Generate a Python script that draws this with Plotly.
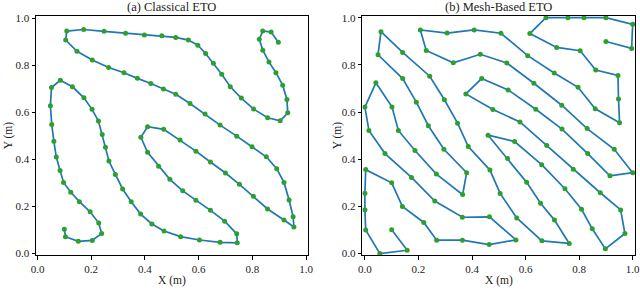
import plotly.graph_objects as go

# (a) Classical ETO path
classical_x = [0.100, 0.104, 0.152, 0.204, 0.239, 0.228, 0.196, 0.156, 0.124, 0.097,
               0.084, 0.070, 0.061, 0.053, 0.048, 0.052, 0.085, 0.130, 0.173, 0.203,
               0.227, 0.241, 0.253, 0.266, 0.290, 0.317, 0.349, 0.384, 0.426, 0.471,
               0.533, 0.603, 0.680, 0.744, 0.742, 0.697, 0.644, 0.590, 0.541, 0.493,
               0.451, 0.410, 0.385, 0.410, 0.470, 0.531, 0.590, 0.644, 0.700, 0.752,
               0.804, 0.857, 0.918, 0.955, 0.952, 0.937, 0.918, 0.891, 0.852, 0.799,
               0.742, 0.680, 0.624, 0.568, 0.515, 0.469, 0.422, 0.372, 0.322, 0.265,
               0.204, 0.147, 0.105, 0.109, 0.172, 0.248, 0.328, 0.398, 0.463, 0.515,
               0.562, 0.597, 0.626, 0.655, 0.686, 0.718, 0.759, 0.805, 0.857, 0.904,
               0.932, 0.929, 0.913, 0.888, 0.862, 0.839, 0.826, 0.839, 0.870, 0.897]
classical_y = [0.103, 0.071, 0.051, 0.055, 0.085, 0.129, 0.177, 0.220, 0.260, 0.302,
               0.353, 0.410, 0.477, 0.549, 0.628, 0.706, 0.737, 0.709, 0.662, 0.613,
               0.563, 0.506, 0.452, 0.393, 0.336, 0.274, 0.220, 0.167, 0.125, 0.095,
               0.071, 0.057, 0.047, 0.045, 0.083, 0.137, 0.183, 0.226, 0.266, 0.315,
               0.371, 0.430, 0.494, 0.539, 0.528, 0.482, 0.435, 0.389, 0.342, 0.294,
               0.243, 0.189, 0.142, 0.112, 0.156, 0.227, 0.302, 0.360, 0.411, 0.454,
               0.499, 0.546, 0.593, 0.638, 0.677, 0.700, 0.723, 0.745, 0.769, 0.791,
               0.823, 0.860, 0.908, 0.946, 0.953, 0.945, 0.937, 0.930, 0.926, 0.919,
               0.908, 0.886, 0.851, 0.809, 0.762, 0.709, 0.661, 0.614, 0.577, 0.564,
               0.598, 0.655, 0.716, 0.769, 0.815, 0.865, 0.911, 0.947, 0.942, 0.899]

# (b) Mesh-Based ETO path
mesh_x = [0.100, 0.158, 0.056, 0.003, 0.000, 0.000, 0.003, 0.100, 0.140, 0.220,
          0.268, 0.364, 0.464, 0.564, 0.465, 0.364, 0.261, 0.174, 0.075, 0.015,
          0.000, 0.041, 0.101, 0.125, 0.187, 0.267, 0.365, 0.380, 0.295, 0.237,
          0.192, 0.141, 0.049, 0.060, 0.141, 0.242, 0.297, 0.346, 0.386, 0.467,
          0.505, 0.567, 0.661, 0.763, 0.708, 0.656, 0.604, 0.533, 0.460, 0.559,
          0.660, 0.747, 0.809, 0.849, 0.898, 0.971, 0.955, 0.879, 0.778, 0.679,
          0.579, 0.478, 0.377, 0.436, 0.535, 0.638, 0.736, 0.832, 0.915, 1.000,
          0.931, 0.830, 0.735, 0.631, 0.530, 0.431, 0.330, 0.229, 0.207, 0.307,
          0.408, 0.508, 0.608, 0.707, 0.796, 0.860, 0.951, 0.947, 0.945, 0.862,
          0.804, 0.716, 0.616, 0.676, 0.758, 0.818, 0.900, 1.000, 0.996, 0.900]
mesh_y = [0.101, 0.014, 0.000, 0.100, 0.186, 0.256, 0.356, 0.300, 0.200, 0.132,
          0.057, 0.057, 0.038, 0.058, 0.156, 0.154, 0.223, 0.323, 0.424, 0.522,
          0.621, 0.724, 0.622, 0.522, 0.437, 0.337, 0.250, 0.343, 0.442, 0.542,
          0.642, 0.742, 0.843, 0.941, 0.853, 0.752, 0.652, 0.553, 0.454, 0.354,
          0.255, 0.151, 0.054, 0.043, 0.142, 0.213, 0.302, 0.403, 0.502, 0.475,
          0.377, 0.275, 0.188, 0.105, 0.020, 0.085, 0.185, 0.258, 0.358, 0.458,
          0.558, 0.611, 0.677, 0.742, 0.694, 0.612, 0.528, 0.424, 0.330, 0.343,
          0.442, 0.530, 0.629, 0.722, 0.808, 0.845, 0.809, 0.861, 0.948, 0.935,
          0.948, 0.934, 0.839, 0.766, 0.705, 0.614, 0.555, 0.655, 0.755, 0.778,
          0.860, 0.874, 0.933, 1.000, 1.000, 1.000, 1.000, 0.972, 0.870, 0.899]

tick_vals = [0.0, 0.2, 0.4, 0.6, 0.8, 1.0]
tick_text = ["0.0", "0.2", "0.4", "0.6", "0.8", "1.0"]
titles = ["(a) Classical ETO", "(b) Mesh-Based ETO"]

W, H = 640, 289
FONT = "Liberation Serif, Times New Roman, serif"
LINE = "#1f77b4"
MARK = "#2ca02c"

def px_x(p):
    return p / W

def px_y(p):
    return 1 - p / H

fig = go.Figure()
for i, (xs, ys) in enumerate([(classical_x, classical_y), (mesh_x, mesh_y)]):
    sfx = "" if i == 0 else str(i + 1)
    fig.add_trace(go.Scatter(
        x=xs, y=ys, mode="lines+markers",
        xaxis="x" + sfx, yaxis="y" + sfx,
        line=dict(color=LINE, width=1.7),
        marker=dict(color=MARK, size=5, line=dict(width=0)),
        showlegend=False, hoverinfo="skip"))

dom_x = [(px_x(36), px_x(307.7)), (px_x(362.3), px_x(635))]
dom_y = (px_y(255), px_y(15.5))
ranges_x = [(-0.0056, 1.0063), (-0.0097, 1.0086)]
ranges_y = [(-0.007, 1.0125), (-0.006, 1.0094)]

axis_common = dict(
    showline=True, linecolor="black", linewidth=1, mirror=True,
    ticks="outside", ticklen=3.5, tickwidth=1, tickcolor="black",
    tickvals=tick_vals, ticktext=tick_text, showgrid=False, zeroline=False,
    ticklabeloverflow="allow",
    tickfont=dict(family=FONT, size=11, color="#222"), automargin=False)

layout = dict(
    width=W, height=H, margin=dict(l=0, r=0, t=0, b=0),
    paper_bgcolor="white", plot_bgcolor="white", showlegend=False)
for i in range(2):
    sfx = "" if i == 0 else str(i + 1)
    layout["xaxis" + sfx] = dict(axis_common, domain=list(dom_x[i]), range=list(ranges_x[i]),
                                 anchor="y" + sfx)
    layout["yaxis" + sfx] = dict(axis_common, domain=list(dom_y), range=list(ranges_y[i]),
                                 anchor="x" + sfx)
fig.update_layout(**layout)

annots = []
for i in range(2):
    cx = (dom_x[i][0] + dom_x[i][1]) / 2
    annots.append(dict(text=titles[i], x=cx, y=px_y(6.5), xref="paper", yref="paper",
                       xanchor="center", yanchor="middle", showarrow=False,
                       font=dict(family=FONT, size=12.5, color="#222")))
    annots.append(dict(text="X (m)", x=cx, y=px_y(280), xref="paper", yref="paper",
                       xanchor="center", yanchor="middle", showarrow=False,
                       font=dict(family=FONT, size=11.5, color="#222")))
ylab_x = [8, 337]
for i in range(2):
    annots.append(dict(text="Y (m)", x=px_x(ylab_x[i]), y=(dom_y[0] + dom_y[1]) / 2,
                       xref="paper", yref="paper", xanchor="center", yanchor="middle",
                       textangle=-90, showarrow=False,
                       font=dict(family=FONT, size=11.5, color="#222")))
fig.update_layout(annotations=annots)

fig.write_html("out.html", config={"displayModeBar": False},
               post_script="document.body.style.margin='0';document.body.style.overflow='hidden';")
